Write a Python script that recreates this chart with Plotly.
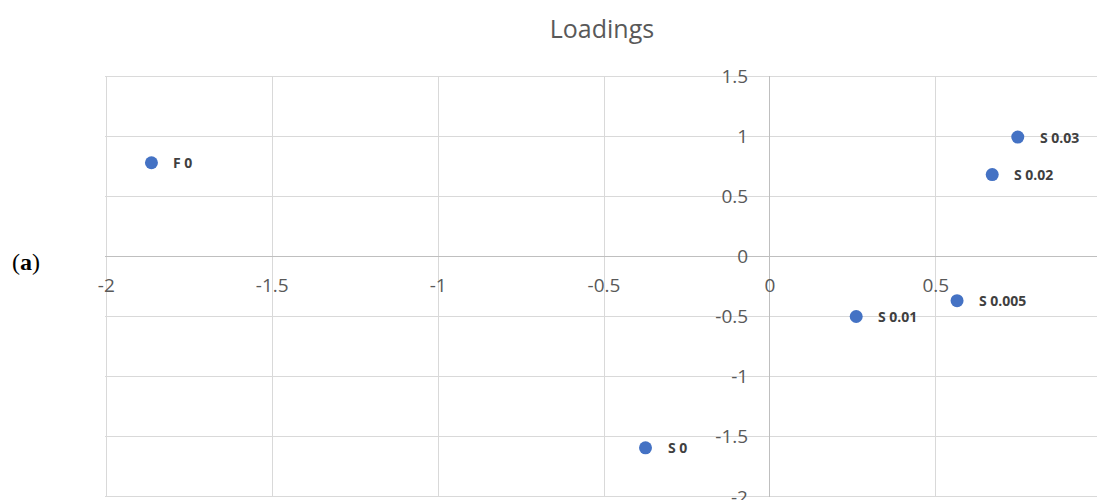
import plotly.graph_objects as go

labels = ["F 0", "S 0", "S 0.01", "S 0.005", "S 0.02", "S 0.03"]
x_vals = [-1.864, -0.375, 0.260, 0.564, 0.670, 0.747]
y_vals = [0.781, -1.594, -0.500, -0.368, 0.683, 0.995]

x_ticks = [-2, -1.5, -1, -0.5, 0, 0.5]
x_ticktext = ["-2", "-1.5", "-1", "-0.5", "0", "0.5"]
y_ticks = [-2, -1.5, -1, -0.5, 0, 0.5, 1, 1.5]
y_ticktext = ["-2", "-1.5", "-1", "-0.5", "0", "0.5", "1", "1.5"]

W, H = 1097, 500
ml, mr, mt, mb = 105, 0, 76, 3
pad = 0.004
x_range = [-2 - pad, -2 - pad + (W - ml - mr) / 331.8]
y_range = [-2 - pad, 1.5 + pad]

tick_font = dict(family="Open Sans", size=19, color="#595959")

fig = go.Figure()

# outer horizontal gridlines at the first and last y tick
for yt in (y_ticks[0], y_ticks[-1]):
    fig.add_shape(type="line", xref="paper", yref="y", x0=0, x1=1, y0=yt, y1=yt,
                  line=dict(color="#d9d9d9", width=1), layer="below")

fig.add_trace(go.Scatter(
    x=x_vals, y=y_vals, mode="markers",
    marker=dict(size=13, color="#4472C4"),
    hoverinfo="skip", showlegend=False,
))

for xv, yv, lab in zip(x_vals, y_vals, labels):
    fig.add_annotation(
        x=xv, y=yv, text="<b>" + lab + "</b>", showarrow=False,
        xanchor="left", yanchor="middle", xshift=20,
        font=dict(family="Open Sans", size=14, color="#404040"),
    )

# bottom y tick label (partly cut off by the window edge, as in the reference)
fig.add_annotation(
    x=0, y=y_ticks[0], text=y_ticktext[0], showarrow=False,
    xanchor="right", yanchor="middle", xshift=-20, yshift=0,
    font=tick_font,
)

fig.add_annotation(
    xref="paper", yref="paper",
    x=(10 - ml) / (W - ml - mr), y=(H - mb - 262) / (H - mt - mb),
    text="(<b>a</b>)", showarrow=False, xanchor="left", yanchor="middle",
    font=dict(family="Liberation Serif", size=24, color="#000000"),
)

fig.update_layout(
    width=W, height=H,
    margin=dict(l=ml, r=mr, t=mt, b=mb),
    paper_bgcolor="white", plot_bgcolor="white",
    title=dict(text="Loadings", x=602 / W, xref="container", xanchor="center",
               y=1 - 29 / H, yref="container", yanchor="middle",
               font=dict(family="Open Sans", size=25, color="#595959")),
    xaxis=dict(range=x_range, tickmode="array", tickvals=x_ticks, ticktext=x_ticktext,
               showgrid=True, gridcolor="#d9d9d9", gridwidth=1,
               zeroline=True, zerolinecolor="#bfbfbf", zerolinewidth=1,
               anchor="free", position=(0 - y_range[0]) / (y_range[1] - y_range[0]),
               ticks="outside", ticklen=12, tickcolor="rgba(0,0,0,0)",
               tickfont=tick_font, showline=False, fixedrange=True),
    yaxis=dict(range=y_range, tickmode="array", tickvals=y_ticks, ticktext=y_ticktext,
               showgrid=True, gridcolor="#d9d9d9", gridwidth=1,
               zeroline=True, zerolinecolor="#bfbfbf", zerolinewidth=1,
               anchor="free", position=(0 - x_range[0]) / (x_range[1] - x_range[0]),
               ticks="outside", ticklen=18, tickcolor="rgba(0,0,0,0)",
               tickfont=tick_font, showline=False, fixedrange=True),
)

fig.write_html("out.html")
